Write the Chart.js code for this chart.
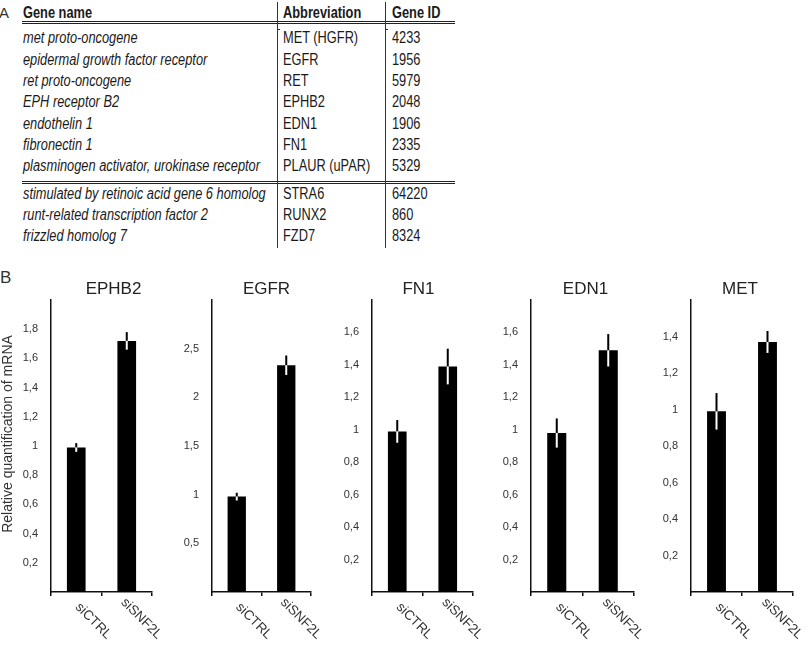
<!DOCTYPE html>
<html>
<head>
<meta charset="utf-8">
<script src="https://cdn.jsdelivr.net/npm/chart.js@4.4.1/dist/chart.umd.min.js"></script>
<style>
  html, body { margin: 0; padding: 0; background: #fff; }
  body { width: 810px; height: 648px; position: relative; overflow: hidden;
         font-family: "Liberation Sans", Arial, sans-serif; color: #1a1a1a; }
  .t { position: absolute; font-size: 16px; line-height: 16px; white-space: nowrap;
       transform-origin: 0 0; transform: scaleX(0.8); }
  .i { font-style: italic; }
  .b { font-weight: bold; }
  .hl { position: absolute; left: 22px; width: 433px; height: 1px; background: #222; }
  .vl { position: absolute; top: 2px; width: 1px; height: 246px; background: #333; }
  .panel { position: absolute; font-size: 17px; color: #333; }
  canvas { position: absolute; top: 270px; }
</style>
</head>
<body>
<div class="panel" style="left:-1px;top:4px;font-size:15px">A</div>
<div class="panel" style="left:0px;top:268px">B</div>
<div id="table"></div>

<script>
// table A
const geneNames = [
  'met proto-oncogene',
  'epidermal growth factor receptor',
  'ret proto-oncogene',
  'EPH receptor B2',
  'endothelin 1',
  'fibronectin 1',
  'plasminogen activator, urokinase receptor',
  'stimulated by retinoic acid gene 6 homolog',
  'runt-related transcription factor 2',
  'frizzled homolog 7'
];
const abbreviations = ['MET (HGFR)', 'EGFR', 'RET', 'EPHB2', 'EDN1', 'FN1', 'PLAUR (uPAR)', 'STRA6', 'RUNX2', 'FZD7'];
const geneIds = ['4233', '1956', '5979', '2048', '1906', '2335', '5329', '64220', '860', '8324'];
const headers = ['Gene name', 'Abbreviation', 'Gene ID'];

// panel B
const groups = ['siCTRL', 'siSNF2L'];
const genes = ['EPHB2', 'EGFR', 'FN1', 'EDN1', 'MET'];
const ephb2 = [0.99, 1.72];
const ephb2Err = [0.03, 0.06];
const egfr = [0.98, 2.33];
const egfrErr = [0.04, 0.10];
const fn1 = [0.99, 1.39];
const fn1Err = [0.07, 0.11];
const edn1 = [0.98, 1.49];
const edn1Err = [0.09, 0.10];
const met = [0.99, 1.37];
const metErr = [0.10, 0.06];
const yMax = [2, 3, 1.8, 1.8, 1.6];
const yStep = [0.2, 0.5, 0.2, 0.2, 0.2];
const yTitle = 'Relative quantification of mRNA';

const values = [ephb2, egfr, fn1, edn1, met];
const errors = [ephb2Err, egfrErr, fn1Err, edn1Err, metErr];

// ---- table layout
const tbl = document.getElementById('table');
const colX = [23, 283, 392];
function addText(txt, x, baseline, cls) {
  const d = document.createElement('div');
  d.className = 't ' + cls;
  d.textContent = txt;
  d.style.left = x + 'px';
  d.style.top = (baseline - 13) + 'px';
  tbl.appendChild(d);
}
headers.forEach((h, c) => addText(h, colX[c], 17.5, 'b'));
geneNames.forEach((g, r) => {
  const base = r < 7 ? 43.3 + r * 21.3 : 199.3 + (r - 7) * 21;
  addText(g, colX[0], base, 'i');
  addText(abbreviations[r], colX[1], base, '');
  addText(geneIds[r], colX[2], base, '');
});
[21, 23, 181, 183].forEach(y => {
  const d = document.createElement('div');
  d.className = 'hl';
  d.style.top = y + 'px';
  tbl.appendChild(d);
});
[277, 385].forEach(x => {
  const d = document.createElement('div');
  d.className = 'vl';
  d.style.left = x + 'px';
  tbl.appendChild(d);
  const s = document.createElement('div');
  s.style.cssText = 'position:absolute;left:' + x + 'px;top:29px;width:3px;height:1px;background:#333';
  tbl.appendChild(s);
});

// ---- charts
const axisLeft = [51, 212, 372, 531, 691];
const plotW = [101, 99, 101, 103, 102];
const titleShift = [12, 5, -4, 3, -2];
const FONT = '"Liberation Sans", Arial, sans-serif';

function fmt(v) {
  return String(Math.round(v * 10) / 10).replace('.', ',');
}

const extras = {
  id: 'extras',
  afterDatasetsDraw(chart, args, opts) {
    const ctx = chart.ctx;
    const y = chart.scales.y;
    const vals = chart.data.datasets[0].data;
    chart.getDatasetMeta(0).data.forEach((bar, k) => {
      const top = y.getPixelForValue(vals[k] + opts.err[k]);
      const bot = y.getPixelForValue(vals[k] - opts.err[k]);
      ctx.save();
      ctx.lineWidth = 2;
      ctx.strokeStyle = '#000';
      ctx.beginPath(); ctx.moveTo(bar.x, top); ctx.lineTo(bar.x, bar.y); ctx.stroke();
      ctx.strokeStyle = '#fff';
      ctx.beginPath(); ctx.moveTo(bar.x, bar.y); ctx.lineTo(bar.x, bot); ctx.stroke();
      ctx.restore();
    });
  },
  afterDraw(chart, args, opts) {
    const ctx = chart.ctx;
    const area = chart.chartArea;
    const x = chart.scales.x;
    ctx.save();
    ctx.fillStyle = '#333';
    ctx.font = '13.5px ' + FONT;
    ctx.textAlign = 'right';
    ctx.textBaseline = 'middle';
    chart.data.labels.forEach((lab, k) => {
      const px = x.getPixelForValue(k);
      ctx.save();
      ctx.translate(px + 33, area.bottom + 45);
      ctx.rotate(Math.PI / 4);
      ctx.fillText(lab, 0, 0);
      ctx.restore();
    });
    ctx.fillStyle = '#222';
    ctx.font = '17px ' + FONT;
    ctx.textAlign = 'center';
    ctx.textBaseline = 'alphabetic';
    ctx.fillText(opts.title, (area.left + area.right) / 2 + opts.shift, area.top - 6.5);
    if (opts.yTitle) {
      // centre of the axis title sits a little above the plot centre
      ctx.font = '14px ' + FONT;
      ctx.fillStyle = '#333';
      ctx.translate(8.5, (area.top + area.bottom) / 2 - 12);
      ctx.rotate(-Math.PI / 2);
      ctx.textBaseline = 'middle';
      ctx.fillText(opts.yTitle, 0, 0);
    }
    ctx.restore();
  }
};

genes.forEach((gene, i) => {
  const yW = i === 0 ? 51 : 45;
  const cv = document.createElement('canvas');
  cv.width = yW + plotW[i] + 14;
  cv.height = 378;
  cv.style.left = (axisLeft[i] - yW) + 'px';
  document.body.appendChild(cv);

  new Chart(cv, {
    type: 'bar',
    data: {
      labels: groups,
      datasets: [{
        data: values[i],
        backgroundColor: '#000',
        borderWidth: 0,
        categoryPercentage: 1,
        barPercentage: 0.37
      }]
    },
    options: {
      responsive: false,
      animation: false,
      layout: { padding: { top: 30, right: 14, bottom: 52, left: 0 } },
      plugins: {
        legend: { display: false },
        tooltip: { enabled: false },
        extras: { err: errors[i], title: gene, shift: titleShift[i], yTitle: i === 0 ? yTitle : null }
      },
      scales: {
        x: {
          ticks: { display: false },
          grid: { display: true, drawOnChartArea: false, drawTicks: true, tickLength: 4, color: '#111', lineWidth: 1.5, offset: true },
          border: { display: true, color: '#111', width: 1.5 }
        },
        y: {
          min: 0,
          max: yMax[i],
          ticks: {
            stepSize: yStep[i],
            padding: 5,
            color: '#333',
            font: { size: 11, family: FONT },
            callback: (v) => (v <= 0 || v >= yMax[i] - 1e-9) ? '' : fmt(v)
          },
          grid: { display: false },
          border: { display: true, color: '#111', width: 1.5 },
          afterFit: (s) => { s.width = yW; }
        }
      }
    },
    plugins: [extras]
  });
});
</script>
</body>
</html>
